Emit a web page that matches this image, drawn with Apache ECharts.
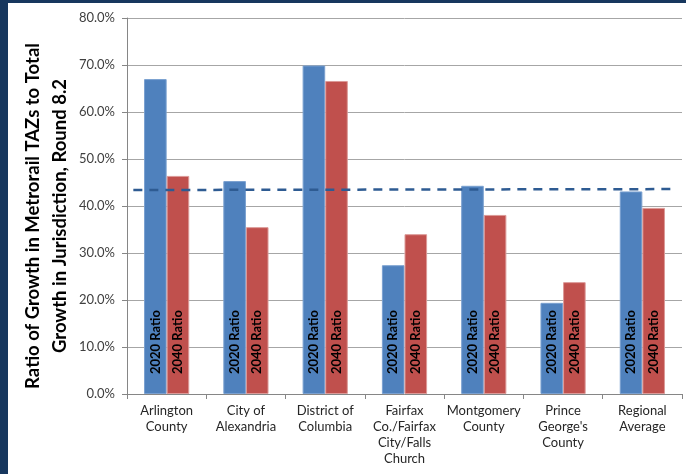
<!DOCTYPE html>
<html>
<head>
<meta charset="utf-8">
<script src="https://cdn.jsdelivr.net/npm/echarts@6/dist/echarts.min.js"></script>
<style>
  html, body { margin: 0; padding: 0; }
  body { width: 686px; height: 474px; background: #17375e; position: relative; overflow: hidden; }
  #chart { position: absolute; left: 8px; top: 3px; width: 678px; height: 471px; background: #fff; }
</style>
</head>
<body>
<div id="chart"></div>
<script>
// categories and values
const categories = [
  'Arlington\nCounty',
  'City of\nAlexandria',
  'District of\nColumbia',
  'Fairfax\nCo./Fairfax\nCity/Falls\nChurch',
  'Montgomery\nCounty',
  "Prince\nGeorge's\nCounty",
  'Regional\nAverage'
]
const ratio2020 = [67.0, 45.3, 69.9, 27.4, 44.3, 19.4, 43.1]
const ratio2040 = [46.4, 35.5, 66.6, 34.0, 38.1, 23.8, 39.6]
// dashed trend line, x in category units (0 = left edge, 7 = right edge)
const trendLine = [[0.08, 43.4], [6.93, 43.6]]
const yTicks = { min: 0, max: 80, step: 10 }

const chart = echarts.init(document.getElementById('chart'))
const font = 'Lato, "Liberation Sans", sans-serif'

function barLabel(text) {
  return {
    show: true,
    position: 'insideBottom',
    rotate: 90,
    align: 'left',
    verticalAlign: 'middle',
    distance: 20,
    formatter: text,
    color: '#000',
    fontFamily: font,
    fontWeight: 'bold',
    fontSize: 13
  }
}

const option = {
  animation: false,
  textStyle: { fontFamily: font },
  grid: { left: 119, top: 15, right: 4, bottom: 80, containLabel: false },
  xAxis: [
    {
      type: 'category',
      data: categories,
      axisLine: { lineStyle: { color: '#868686' } },
      axisTick: { show: true, length: 5, lineStyle: { color: '#868686' } },
      axisLabel: { color: '#262626', fontSize: 13, lineHeight: 16, margin: 9, interval: 0, fontFamily: font }
    },
    {
      type: 'value',
      min: 0,
      max: 7,
      show: false
    }
  ],
  yAxis: {
    type: 'value',
    min: yTicks.min,
    max: yTicks.max,
    interval: yTicks.step,
    axisLine: { show: true, lineStyle: { color: '#868686' } },
    axisTick: { show: true, length: 5, lineStyle: { color: '#868686' } },
    axisLabel: {
      color: '#404040',
      fontSize: 13,
      margin: 12,
      fontFamily: font,
      formatter: v => v.toFixed(1) + '%'
    },
    splitLine: { lineStyle: { color: '#a6a6a6', width: 1 } }
  },
  graphic: [
    {
      type: 'text',
      x: 39,
      y: 213,
      rotation: Math.PI / 2,
      style: {
        text: 'Ratio of Growth in Metrorail TAZs to Total\nGrowth in Jurisdiction, Round 8.2',
        font: 'bold 18.5px ' + font,
        fill: '#000',
        align: 'center',
        verticalAlign: 'middle',
        lineHeight: 27
      }
    }
  ],
  series: [
    {
      name: '2020 Ratio',
      type: 'bar',
      data: ratio2020,
      barGap: '0%',
      barCategoryGap: '43%',
      itemStyle: { color: '#4f81bd', borderColor: '#7aa0d0', borderWidth: 1 },
      label: barLabel('2020 Ratio')
    },
    {
      name: '2040 Ratio',
      type: 'bar',
      data: ratio2040,
      barGap: '0%',
      barCategoryGap: '43%',
      itemStyle: { color: '#c0504d', borderColor: '#dc9a98', borderWidth: 1 },
      label: barLabel('2040 Ratio')
    },
    {
      name: 'Trend',
      type: 'line',
      xAxisIndex: 1,
      data: trendLine,
      symbol: 'none',
      z: 5,
      lineStyle: { color: '#2e5b92', width: 2.5, type: [9, 7] }
    }
  ]
}

chart.setOption(option)
</script>
</body>
</html>
